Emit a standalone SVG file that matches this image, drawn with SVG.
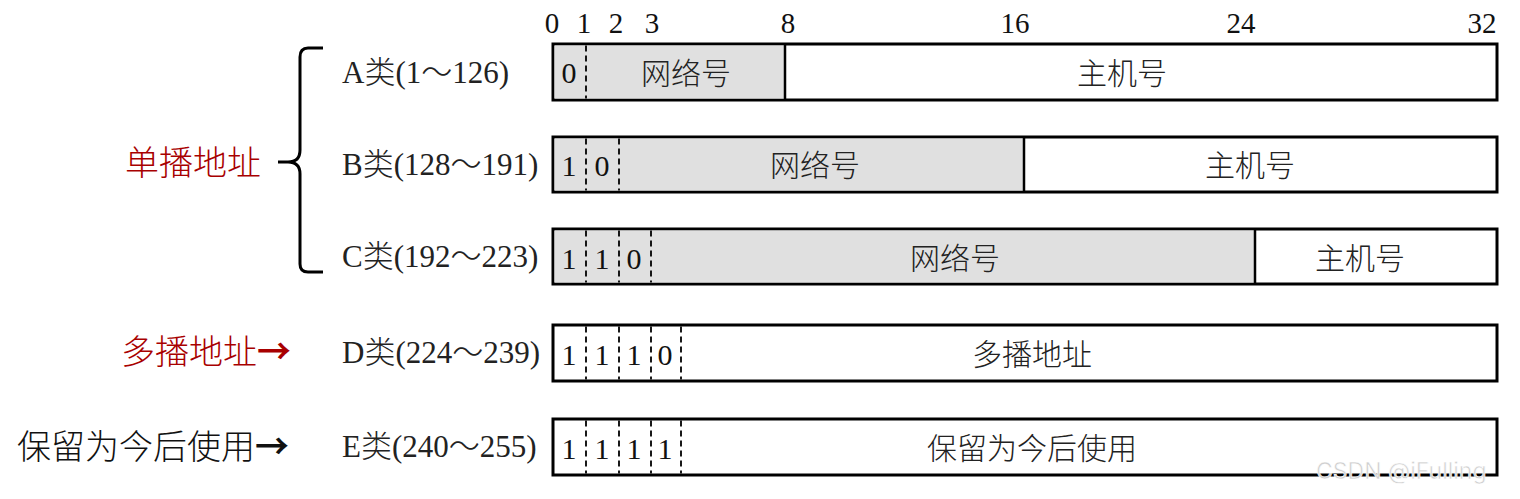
<svg xmlns="http://www.w3.org/2000/svg" width="1520" height="499" viewBox="0 0 1520 499">
<style>
.box{fill:#fff;stroke:#000;stroke-width:3}
.net{fill:#e0e0e0;stroke:none}
.div{stroke:#000;stroke-width:2.5}
.dash{stroke:#000;stroke-width:1.8;stroke-dasharray:6 4}
.num{font-family:"Liberation Serif","Noto Sans CJK SC",serif;font-size:29px;fill:#111;text-anchor:middle}
.bit{font-family:"Liberation Serif",serif;font-size:30px;fill:#111;text-anchor:middle}
.lbl{font-family:"Liberation Serif","Noto Sans CJK SC",serif;font-size:31px;fill:#222}
.lbl tspan{font-family:"Noto Sans CJK SC",sans-serif;font-weight:300}
.cn{font-family:"Noto Sans CJK SC",sans-serif;font-size:30px;fill:#222;text-anchor:middle;font-weight:300}
.side{font-family:"Noto Sans CJK SC",sans-serif;font-size:34px;font-weight:300}
.side tspan{font-weight:700}
.red{fill:#a80000}
.blk{fill:#111}
</style>
<g id="scale">
<text class="num" x="552" y="33">0</text>
<text class="num" x="584" y="33">1</text>
<text class="num" x="616" y="33">2</text>
<text class="num" x="652" y="33">3</text>
<text class="num" x="788" y="33">8</text>
<text class="num" x="1015" y="33">16</text>
<text class="num" x="1241" y="33">24</text>
<text class="num" x="1482" y="33">32</text>
</g>
<g id="rowA">
<text class="lbl" x="342" y="83">A<tspan>类</tspan>(1<tspan>～</tspan>126)</text>
<rect class="box" x="553" y="44" width="944" height="56"/>
<rect class="net" x="554.5" y="45.5" width="230" height="53"/>
<line class="dash" x1="586" y1="45.5" x2="586" y2="98.5"/>
<line class="div" x1="785" y1="44" x2="785" y2="100"/>
<text class="bit" x="569" y="83">0</text>
<text class="cn" x="686" y="84">网络号</text>
<text class="cn" x="1122" y="84">主机号</text>
</g>
<g id="rowB">
<text class="lbl" x="342" y="175">B<tspan>类</tspan>(128<tspan>～</tspan>191)</text>
<rect class="box" x="553" y="137" width="944" height="55"/>
<rect class="net" x="554.5" y="138.5" width="469" height="52"/>
<line class="dash" x1="586" y1="138.5" x2="586" y2="190.5"/>
<line class="dash" x1="619" y1="138.5" x2="619" y2="190.5"/>
<line class="div" x1="1024" y1="137" x2="1024" y2="192"/>
<text class="bit" x="569" y="176">1</text>
<text class="bit" x="602" y="176">0</text>
<text class="cn" x="815" y="176">网络号</text>
<text class="cn" x="1250" y="176">主机号</text>
</g>
<g id="rowC">
<text class="lbl" x="342" y="267">C<tspan>类</tspan>(192<tspan>～</tspan>223)</text>
<rect class="box" x="553" y="229" width="944" height="55"/>
<rect class="net" x="554.5" y="230.5" width="700" height="52"/>
<line class="dash" x1="586" y1="230.5" x2="586" y2="282.5"/>
<line class="dash" x1="619" y1="230.5" x2="619" y2="282.5"/>
<line class="dash" x1="651" y1="230.5" x2="651" y2="282.5"/>
<line class="div" x1="1255" y1="229" x2="1255" y2="284"/>
<text class="bit" x="569" y="269">1</text>
<text class="bit" x="602" y="269">1</text>
<text class="bit" x="634" y="269">0</text>
<text class="cn" x="955" y="269">网络号</text>
<text class="cn" x="1360" y="269">主机号</text>
</g>
<g id="rowD">
<text class="lbl" x="342" y="363">D<tspan>类</tspan>(224<tspan>～</tspan>239)</text>
<rect class="box" x="553" y="325" width="944" height="56"/>
<line class="dash" x1="586" y1="326.5" x2="586" y2="379.5"/>
<line class="dash" x1="619" y1="326.5" x2="619" y2="379.5"/>
<line class="dash" x1="651" y1="326.5" x2="651" y2="379.5"/>
<line class="dash" x1="681" y1="326.5" x2="681" y2="379.5"/>
<text class="bit" x="569" y="365">1</text>
<text class="bit" x="602" y="365">1</text>
<text class="bit" x="634" y="365">1</text>
<text class="bit" x="665" y="365">0</text>
<text class="cn" x="1032" y="365">多播地址</text>
</g>
<g id="rowE">
<text class="lbl" x="342" y="457">E<tspan>类</tspan>(240<tspan>～</tspan>255)</text>
<rect class="box" x="553" y="419" width="944" height="56"/>
<line class="dash" x1="586" y1="420.5" x2="586" y2="473.5"/>
<line class="dash" x1="619" y1="420.5" x2="619" y2="473.5"/>
<line class="dash" x1="651" y1="420.5" x2="651" y2="473.5"/>
<line class="dash" x1="681" y1="420.5" x2="681" y2="473.5"/>
<text class="bit" x="569" y="459">1</text>
<text class="bit" x="602" y="459">1</text>
<text class="bit" x="634" y="459">1</text>
<text class="bit" x="665" y="459">1</text>
<text class="cn" x="1032" y="459">保留为今后使用</text>
</g>
<g id="unicast">
<text class="side red" x="125" y="175">单播地址</text>
</g>
<g id="multicast">
<text class="side red" x="121" y="364">多播地址<tspan>→</tspan></text>
</g>
<g id="reserved">
<text class="side blk" x="17" y="459">保留为今后使用<tspan>→</tspan></text>
</g>
<g id="connectors">
<path d="M323,48 L308,48 Q300,48 300,57 L300,150 Q300,162 288,162 L278,162 L288,162 Q300,162 300,174 L300,264 Q300,272 308,272 L323,272" fill="none" stroke="#000" stroke-width="3"/>
</g>
<g id="watermark">
<text x="1316" y="479" font-family="Inter,'Noto Sans',sans-serif" font-size="23" fill="#cfcfcf" stroke="#fff" stroke-width="0.6">CSDN @iFulling</text>
</g>
</svg>
